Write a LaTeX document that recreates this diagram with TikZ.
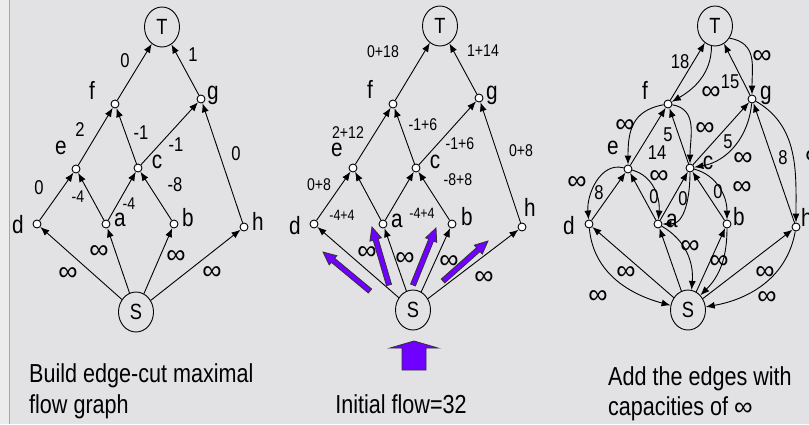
\documentclass[tikz,border=0pt]{standalone}
\usepackage{fontspec}
\setmainfont{Liberation Sans}[FakeStretch=0.83]
\newfontfamily\inffont{Liberation Sans}
\usetikzlibrary{arrows.meta,shapes.geometric,calc}
\definecolor{bgc}{RGB}{226,226,228}
\definecolor{purp}{RGB}{112,0,255}
\tikzset{
  vtx/.style={circle,draw,fill=white,minimum size=8pt,inner sep=0pt,line width=0.9pt},
  bigvtx/.style={ellipse,draw,minimum width=35pt,minimum height=40pt,inner sep=0pt,line width=0.9pt,font=\fontsize{22}{22}\selectfont},
  vlab/.style={inner sep=0pt,font=\fontsize{25}{25}\selectfont},
  elab/.style={inner sep=0pt,font=\fontsize{20}{20}\selectfont},
  elabs/.style={inner sep=0pt,font=\fontsize{17}{17}\selectfont},
  elabt/.style={inner sep=0pt,font=\fontsize{17}{17}\selectfont},
  elabu/.style={inner sep=0pt,font=\fontsize{15}{15}\selectfont},
  ilab/.style={inner sep=0pt,font=\inffont\fontsize{27}{27}\selectfont},
  arr/.style={-{Latex[length=9pt,width=7pt]},line width=0.9pt},
  captxt/.style={inner sep=0pt,font=\fontsize{26}{31}\selectfont},
  fatarrow/.style={fill=purp,draw=black!80,line width=0.8pt,line join=miter},
}
\newcommand\fatarr[3]{%
  \coordinate (#1A) at (#2);
  \coordinate (#1B) at (#3);
  \coordinate (#1P) at ($(#1B)!13pt!(#1A)$);
  \filldraw[fatarrow] ($(#1A)!2.6pt!90:(#1B)$) -- ($(#1P)!2.6pt!90:(#1B)$) -- ($(#1P)!6pt!90:(#1B)$) -- (#1B) -- ($(#1P)!6pt!-90:(#1B)$) -- ($(#1P)!2.6pt!-90:(#1B)$) -- ($(#1A)!2.6pt!-90:(#1B)$) -- cycle;
}
\begin{document}
\begin{tikzpicture}[x=1pt,y=1pt]
\useasboundingbox (0,0) rectangle (809,-424);
\fill[bgc] (0,0) rectangle (809,-424);
\fill[white,opacity=0.35] (0,0) rectangle (9,-424);
\draw[black!35,line width=0.6pt] (9,0) -- (9,-424);

% ---------------- Panel 1 ----------------
\node[bigvtx] (T1) at (162,-27) {T};
\node[vtx] (f1) at (115,-104) {};
\node[vtx] (g1) at (201,-99) {};
\node[vtx] (e1) at (76,-169) {};
\node[vtx] (c1) at (138,-168) {};
\node[vtx] (d1) at (37,-224) {};
\node[vtx] (a1) at (106,-224) {};
\node[vtx] (b1) at (174,-224) {};
\node[vtx] (h1) at (244,-227) {};
\node[bigvtx] (S1) at (136,-312) {S};

\node[vlab] (f1l) at (92,-90) {f};
\node[vlab] (g1l) at (213,-95) {g};
\node[vlab] (e1l) at (61,-148) {e};
\node[vlab] (c1l) at (157,-162) {c};
\node[vlab] (d1l) at (18,-225) {d};
\node[vlab] (a1l) at (120,-220) {a};
\node[vlab] (b1l) at (188,-218) {b};
\node[vlab] (h1l) at (258,-221) {h};

\draw[arr] (f1) -- (T1);
\draw[arr] (g1) -- (T1);
\draw[arr] (e1) -- (f1);
\draw[arr] (c1) -- (f1);
\draw[arr] (c1) -- (g1);
\draw[arr] (h1) -- (g1);
\draw[arr] (d1) -- (e1);
\draw[arr] (a1) -- (e1);
\draw[arr] (a1) -- (c1);
\draw[arr] (b1) -- (c1);
\draw[arr] (S1) -- (d1);
\draw[arr] (S1) -- (a1);
\draw[arr] (S1) -- (b1);
\draw[arr] (S1) -- (h1);

\node[elab] (p1l1) at (125,-61) {0};
\node[elab] (p1l2) at (193,-55) {1};
\node[elab] (p1l3) at (80,-130) {2};
\node[elab] (p1l4) at (141,-133) {-1};
\node[elab] (p1l5) at (176,-145) {-1};
\node[elab] (p1l6) at (236,-154) {0};
\node[elab] (p1l7) at (39,-188) {0};
\node[elabs] (p1l8) at (78,-197) {-4};
\node[elabs] (p1l9) at (129,-204) {-4};
\node[elab] (p1l10) at (175,-185) {-8};
\node[ilab] (p1i1) at (99,-252) {∞};
\node[ilab] (p1i2) at (68,-274) {∞};
\node[ilab] (p1i3) at (176,-257) {∞};
\node[ilab] (p1i4) at (212,-273) {∞};

\node[captxt,anchor=base west] (cap1a) at (29,-382) {Build edge-cut maximal};
\node[captxt,anchor=base west] (cap1b) at (29,-413) {flow graph};

% ---------------- Panel 2 ----------------
\node[bigvtx] (T2) at (440,-26) {T};
\node[vtx] (f2) at (393,-104) {};
\node[vtx] (g2) at (479,-98) {};
\node[vtx] (e2) at (353,-168) {};
\node[vtx] (c2) at (416,-168) {};
\node[vtx] (d2) at (314,-224) {};
\node[vtx] (a2) at (383,-224) {};
\node[vtx] (b2) at (452,-224) {};
\node[vtx] (h2) at (522,-227) {};
\node[bigvtx] (S2) at (413,-310) {S};

\node[vlab] (f2l) at (370,-89) {f};
\node[vlab] (g2l) at (492,-95) {g};
\node[vlab] (e2l) at (337,-150) {e};
\node[vlab] (c2l) at (435,-162) {c};
\node[vlab] (d2l) at (295,-226) {d};
\node[vlab] (a2l) at (397,-221) {a};
\node[vlab] (b2l) at (467,-217) {b};
\node[vlab] (h2l) at (530,-207) {h};

\draw[arr] (f2) -- (T2);
\draw[arr] (g2) -- (T2);
\draw[arr] (e2) -- (f2);
\draw[arr] (c2) -- (f2);
\draw[arr] (c2) -- (g2);
\draw[arr] (h2) -- (g2);
\draw[arr] (d2) -- (e2);
\draw[arr] (a2) -- (e2);
\draw[arr] (a2) -- (c2);
\draw[arr] (b2) -- (c2);
\draw[arr] (S2) -- (d2);
\draw[arr] (S2) -- (a2);
\draw[arr] (S2) -- (b2);
\draw[arr] (S2) -- (h2);

\node[elabt] (p2l1) at (383,-52) {0+18};
\node[elabt] (p2l2) at (483,-51) {1+14};
\node[elabt] (p2l3) at (348,-133) {2+12};
\node[elabt] (p2l4) at (423,-125) {-1+6};
\node[elabt] (p2l5) at (460,-144) {-1+6};
\node[elabt] (p2l6) at (521,-151) {0+8};
\node[elabt] (p2l7) at (319,-185) {0+8};
\node[elabu] (p2l8) at (342,-215) {-4+4};
\node[elabu] (p2l9) at (422,-213) {-4+4};
\node[elabt] (p2l10) at (458,-180) {-8+8};
\node[ilab] (p2i1) at (367,-253) {∞};
\node[ilab] (p2i2) at (405,-259) {∞};
\node[ilab] (p2i3) at (449,-262) {∞};
\node[ilab] (p2i4) at (484,-278) {∞};

\fatarr{fa1}{370,-291}{323,-252}
\fatarr{fa2}{389,-285}{372,-227}
\fatarr{fa3}{413,-285}{436,-228}
\fatarr{fa4}{443,-281}{488,-241}
\filldraw[fatarrow] (402,-370) -- (426,-370) -- (426,-348) -- (438,-348) -- (414,-341) -- (390,-348) -- (402,-348) -- cycle;

\node[captxt,anchor=base] (cap2) at (401,-413) {Initial flow=32};

% ---------------- Panel 3 ----------------
\node[bigvtx] (T3) at (715,-26) {T};
\node[vtx] (f3) at (668,-104) {};
\node[vtx] (g3) at (752,-99) {};
\node[vtx] (e3) at (628,-169) {};
\node[vtx] (c3) at (690,-168) {};
\node[vtx] (d3) at (589,-224) {};
\node[vtx] (a3) at (658,-224) {};
\node[vtx] (b3) at (727,-224) {};
\node[vtx] (h3) at (796,-227) {};
\node[bigvtx] (S3) at (688,-310) {S};

\node[vlab] (f3l) at (645,-90) {f};
\node[vlab] (g3l) at (766,-95) {g};
\node[vlab] (e3l) at (613,-148) {e};
\node[vlab] (c3l) at (708,-163) {c};
\node[vlab] (d3l) at (569,-226) {d};
\node[vlab] (a3l) at (672,-221) {a};
\node[vlab] (b3l) at (739,-217) {b};
\node[vlab] (h3l) at (807,-217) {h};

\draw[arr] (f3) -- (T3);
\draw[arr] (g3) -- (T3);
\draw[arr] (e3) -- (f3);
\draw[arr] (c3) -- (f3);
\draw[arr] (c3) -- (g3);
\draw[arr] (h3) -- (g3);
\draw[arr] (d3) -- (e3);
\draw[arr] (a3) -- (e3);
\draw[arr] (a3) -- (c3);
\draw[arr] (b3) -- (c3);
\draw[arr] (S3) -- (d3);
\draw[arr] (S3) -- (a3);
\draw[arr] (S3) -- (b3);
\draw[arr] (S3) -- (h3);

\draw[arr] (T3.-100) to[out=-90,in=30] (f3);
\draw[arr] (T3.-40) to[out=-10,in=90,looseness=1.2] (g3);
\draw[arr] (f3) to[out=190,in=90,looseness=1.2] (e3);
\draw[arr] (f3) to[out=-10,in=90,looseness=1.1] (c3);
\draw[arr] (g3) to[out=-95,in=10] (c3);
\draw[arr] (g3) to[out=-30,in=90] (h3);
\draw[arr] (e3) to[out=165,in=95] (d3);
\draw[arr] (e3) to[out=-15,in=85] (a3);
\draw[arr] (c3) to[out=-90,in=0] (a3);
\draw[arr] (c3) to[out=-15,in=90] (b3);
\draw[arr] (d3) to[out=-85,in=165] (S3);
\draw[arr] (a3) to[out=-30,in=85] (S3.80);
\draw[arr] (b3) to[out=-90,in=45] (S3.50);
\draw[arr] (h3) to[out=-100,in=10] (S3);

\node[elab] (p3l1) at (680,-62) {18};
\node[elab] (p3l2) at (730,-82) {15};
\node[elab] (p3l3) at (657,-153) {14};
\node[elab] (p3l4) at (668,-135) {5};
\node[elab] (p3l5) at (728,-142) {5};
\node[elab] (p3l6) at (783,-158) {8};
\node[elab] (p3l7) at (599,-193) {8};
\node[elab] (p3l8) at (654,-197) {0};
\node[elab] (p3l9) at (683,-199) {0};
\node[elab] (p3l10) at (718,-192) {0};
\node[ilab] (p3i1) at (711,-93) {∞};
\node[ilab] (p3i2) at (762,-57) {∞};
\node[ilab] (p3i3) at (625,-126) {∞};
\node[ilab] (p3i4) at (705,-129) {∞};
\node[ilab] (p3i5) at (743,-159) {∞};
\node[ilab] (p3i6) at (815,-157) {∞};
\node[ilab] (p3i7) at (577,-183) {∞};
\node[ilab] (p3i8) at (659,-177) {∞};
\node[ilab] (p3i9) at (742,-188) {∞};
\node[ilab] (p3i10) at (690,-247) {∞};
\node[ilab] (p3i11) at (719,-262) {∞};
\node[ilab] (p3i12) at (626,-273) {∞};
\node[ilab] (p3i13) at (598,-297) {∞};
\node[ilab] (p3i14) at (765,-273) {∞};
\node[ilab] (p3i15) at (767,-298) {∞};

\node[captxt,anchor=base west] (cap3a) at (608,-385) {Add the edges with};
\node[captxt,anchor=base west] (cap3b) at (608,-415) {capacities of {\inffont ∞}};
\end{tikzpicture}
\end{document}
